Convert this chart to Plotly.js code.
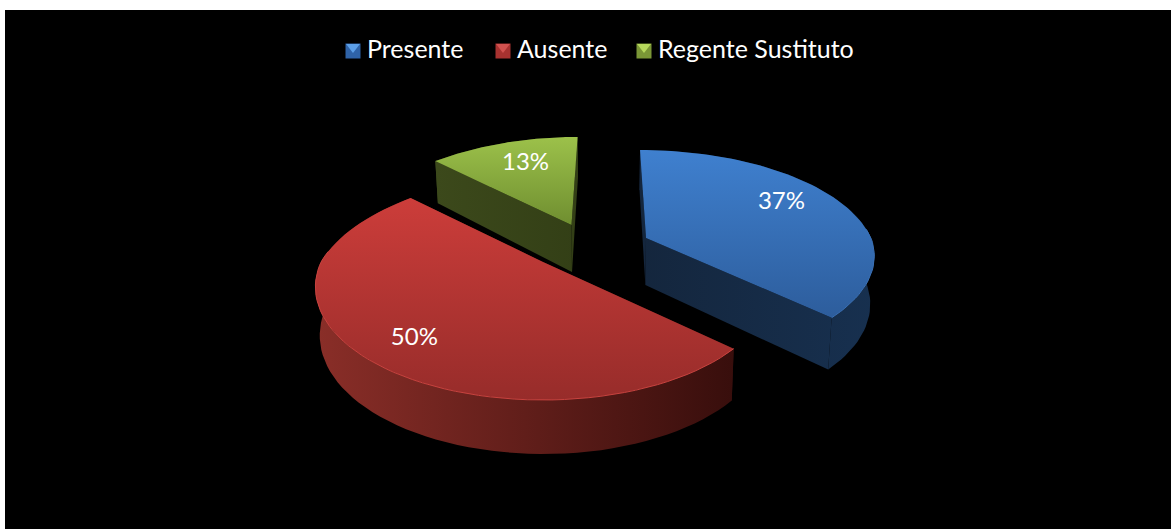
<!DOCTYPE html>
<html><head><meta charset="utf-8">
<script src="https://cdn.plot.ly/plotly-3.0.1.min.js"></script>
<style>html,body{margin:0;padding:0;background:#fff}#chart{width:1171px;height:529px}</style>
</head><body><div id="chart"></div>
<script>
const categories = ["Presente", "Ausente", "Regente Sustituto"];
const values = [37, 50, 13];
const topColors = [["#3f80cf", "#2d5d9c"], ["#cc3d3a", "#972c2a"], ["#9cc14a", "#6f8e30"]];
const sideColors = [["#14263d", "#17304f"], ["#8a2e28", "#380e0c"], ["#3c491b", "#333f16"]];
const rimColors = ["#3a70b5", "#c8433f", "#8aab3e"];
const legendBody = ["#2f63a8", "#a83230", "#7a9636"];
const legendGlow = ["#5c9fe8", "#d2524f", "#b6d85c"];
// apex of each exploded slice, in pixels of the picture
const apexX = [646, 543, 571.5];
const apexY = [238, 262, 225];
const labelDX = [-10, 1, 7];
const labelDY = [-6, 10, 3];
const legendX = [353, 503, 644];
const legendY = 51;
const sliceA = [225, 222, 222];
const sliceB = [103, 107.5, 107.5];
const sliceK = [0.17, 0.221, 0.221];

const VX = 605;
function project(i, ang, r, down) {
  const X = Math.sin(ang) * r, Y = -Math.cos(ang) * r;
  const s = 1 / (1 - sliceK[i] * Y);
  let x = VX + (apexX[i] - VX) * Math.min(s, 1) + sliceA[i] * X * s;
  let y = apexY[i] + sliceB[i] * Y * s;
  if (down) { x = VX + (x - VX) * 0.985; y += 47 + 7 * Y; }
  return [x, y];
}
function arcAngles(a0, a1) { const o = []; for (let k = 0; k <= 72; k++) o.push(a0 + (a1 - a0) * k / 72); return o; }
function fillTrace(pts, type, cols, range) {
  const x = pts.map(p => p[0]), y = pts.map(p => p[1]);
  const d = type === "horizontal" ? x : y;
  const lo = range ? range[0] : Math.min(...d), hi = range ? range[1] : Math.max(...d);
  return {x: x.concat(x[0]), y: y.concat(y[0]), mode: "lines", line: {width: 0}, fill: "toself",
    fillgradient: {type, start: lo, stop: hi, colorscale: [[0, cols[0]], [1, cols[1]]]},
    hoverinfo: "skip", showlegend: false};
}
const total = values.reduce((a, b) => a + b, 0);
const traces = [];
const labelX = [], labelY = [], labelT = [];
let cum = 0;
const spans = values.map(v => { const s = [cum, cum + v]; cum += v; return s.map(c => c / total * 2 * Math.PI); });
[2, 0, 1].forEach(i => {
  const [a0, a1] = spans[i];
  const angs = arcAngles(a0, a1);
  const top = angs.map(a => project(i, a, 1, false));
  const bot = angs.map(a => project(i, a, 1, true));
  const apexT = project(i, 0, 0, false), apexB = project(i, 0, 0, true);
  const xs = top.concat(bot, [apexT, apexB]).map(p => p[0]);
  const range = [Math.min(...xs), Math.max(...xs)];
  traces.push(fillTrace(top.concat(bot.slice().reverse()), "horizontal", sideColors[i], range));
  traces.push(fillTrace([apexT, top[0], bot[0], apexB], "horizontal", sideColors[i], range));
  traces.push(fillTrace([apexT, top[72], bot[72], apexB], "horizontal", sideColors[i], range));
  traces.push(fillTrace([apexT].concat(top), "vertical", topColors[i]));
  const rim = angs.filter(a => -Math.cos(a) > -0.1).map(a => project(i, a, 1, false));
  traces.push({x: rim.map(p => p[0]), y: rim.map(p => p[1]), mode: "lines", line: {width: 1, color: rimColors[i]}, hoverinfo: "skip", showlegend: false});
  const m = project(i, (a0 + a1) / 2, 0.75, false);
  labelX.push(m[0] + labelDX[i]); labelY.push(m[1] + labelDY[i]); labelT.push(Math.round(values[i] / total * 100) + "%");
});
traces.push({x: labelX, y: labelY, text: labelT, mode: "text", textposition: "middle center",
  textfont: {family: "Lato, sans-serif", size: 24, color: "#ffffff"}, hoverinfo: "skip", showlegend: false});
categories.forEach((c, i) => {
  traces.push({x: [legendX[i]], y: [legendY], mode: "markers", marker: {symbol: "square", size: 15, color: legendBody[i]}, hoverinfo: "skip", showlegend: false});
  traces.push({x: [legendX[i]], y: [legendY - 4], mode: "markers", marker: {symbol: "triangle-down", size: 12, color: legendGlow[i]}, hoverinfo: "skip", showlegend: false});
  traces.push({x: [legendX[i] + 14], y: [legendY + 1], text: [c], mode: "text", textposition: "middle right", name: c,
    textfont: {family: "Lato, sans-serif", size: 25, color: "#ffffff"}, hoverinfo: "skip", showlegend: false});
});

const layout = {
  width: 1171, height: 529, showlegend: false,
  margin: {l: 5, r: 0, t: 10, b: 0},
  paper_bgcolor: "#ffffff", plot_bgcolor: "#000000",
  xaxis: {range: [5, 1171], visible: false, fixedrange: true},
  yaxis: {range: [529, 10], visible: false, fixedrange: true}
};
Plotly.newPlot("chart", traces, layout, {displayModeBar: false, staticPlot: true});
</script></body></html>
